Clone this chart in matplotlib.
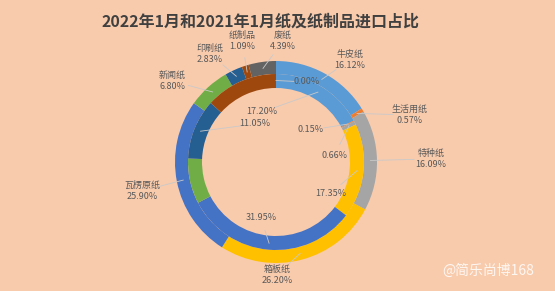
import numpy as np
import matplotlib.pyplot as plt

plt.rcParams['font.family'] = ['Noto Sans CJK SC', 'DejaVu Sans']

categories = ['牛皮纸', '生活用纸', '特种纸', '箱板纸', '瓦楞原纸', '新闻纸', '印刷纸', '纸制品', '废纸']
share_2022 = [16.12, 0.57, 16.09, 26.20, 25.90, 6.80, 2.83, 1.09, 4.39]
share_2021 = [17.20, 0.15, 0.66, 17.35, 31.95, 8.30, 11.05, 13.30, 0.00]
# labels shown for the inner ring (some are hidden in the original)
inner_shown = ['牛皮纸', '生活用纸', '特种纸', '箱板纸', '瓦楞原纸', '印刷纸', '废纸']

colors = ['#5B9BD5', '#ED7D31', '#A5A5A5', '#FFC000', '#4472C4',
          '#70AD47', '#255E91', '#9E480E', '#636363']
bg = '#F8CBAD'
txt = '#595959'

# label layout in pixels (top-left origin)
outer_pos = {'牛皮纸': (350, 60), '生活用纸': (410, 115), '特种纸': (431, 159),
             '箱板纸': (277, 275), '瓦楞原纸': (142, 191), '新闻纸': (172, 81),
             '印刷纸': (210, 54), '纸制品': (242, 41), '废纸': (283, 41)}
inner_pos = {'牛皮纸': (262, 112), '生活用纸': (311, 130), '特种纸': (334, 156),
             '箱板纸': (331, 193), '瓦楞原纸': (261, 218), '印刷纸': (255, 124),
             '废纸': (307, 82)}

W, H = 555, 291
cx, cy = 276, H - 162
r_out, r_in, ring = 101, 88, 13

fig = plt.figure(figsize=(W / 100, H / 100), dpi=100, facecolor=bg)
ax = fig.add_axes([0, 0, 1, 1])
ax.set_facecolor(bg)

outer, _ = ax.pie(share_2022, colors=colors, radius=r_out, center=(cx, cy),
                  startangle=90, counterclock=False, frame=True,
                  wedgeprops=dict(width=ring, edgecolor='none'))
inner, _ = ax.pie(share_2021, colors=colors, radius=r_in, center=(cx, cy),
                  startangle=90, counterclock=False, frame=True,
                  wedgeprops=dict(width=ring + 1, edgecolor='none'))

ax.set_xlim(0, W)
ax.set_ylim(0, H)
ax.set_aspect('equal')
ax.axis('off')


def leader(wedge, r, pos, gap):
    ang = np.deg2rad((wedge.theta1 + wedge.theta2) / 2)
    ax_, ay_ = cx + r * np.cos(ang), cy + r * np.sin(ang)
    lx, ly = pos[0], H - pos[1]
    d = np.hypot(lx - ax_, ly - ay_)
    if d > gap:
        ex = lx + (ax_ - lx) * gap / d
        ey = ly + (ay_ - ly) * gap / d
        ax.plot([ax_, ex], [ay_, ey], color='#C9C9C9', lw=0.6, zorder=3)


for i, name in enumerate(categories):
    pos = outer_pos[name]
    leader(outer[i], r_out - ring / 2, pos, 17)
    ax.text(pos[0], H - pos[1], f'{name}\n{share_2022[i]:.2f}%', ha='center',
            va='center', fontsize=6.5, color=txt, linespacing=1.3, zorder=4)
    if name in inner_shown:
        p = inner_pos[name]
        leader(inner[i], r_in - ring / 2, p, 13)
        ax.text(p[0], H - p[1], f'{share_2021[i]:.2f}%', ha='center',
                va='center', fontsize=6.5, color=txt, zorder=4)

ax.text(260, H - 22, '2022年1月和2021年1月纸及纸制品进口占比', ha='center',
        va='center', fontsize=11.5, fontweight='bold', color='#404040')
ax.text(488, H - 271, '@简乐尚博168', ha='center', va='center',
        fontsize=10, color='white', alpha=0.85)

fig.savefig('out.png', dpi=100, facecolor=bg)
